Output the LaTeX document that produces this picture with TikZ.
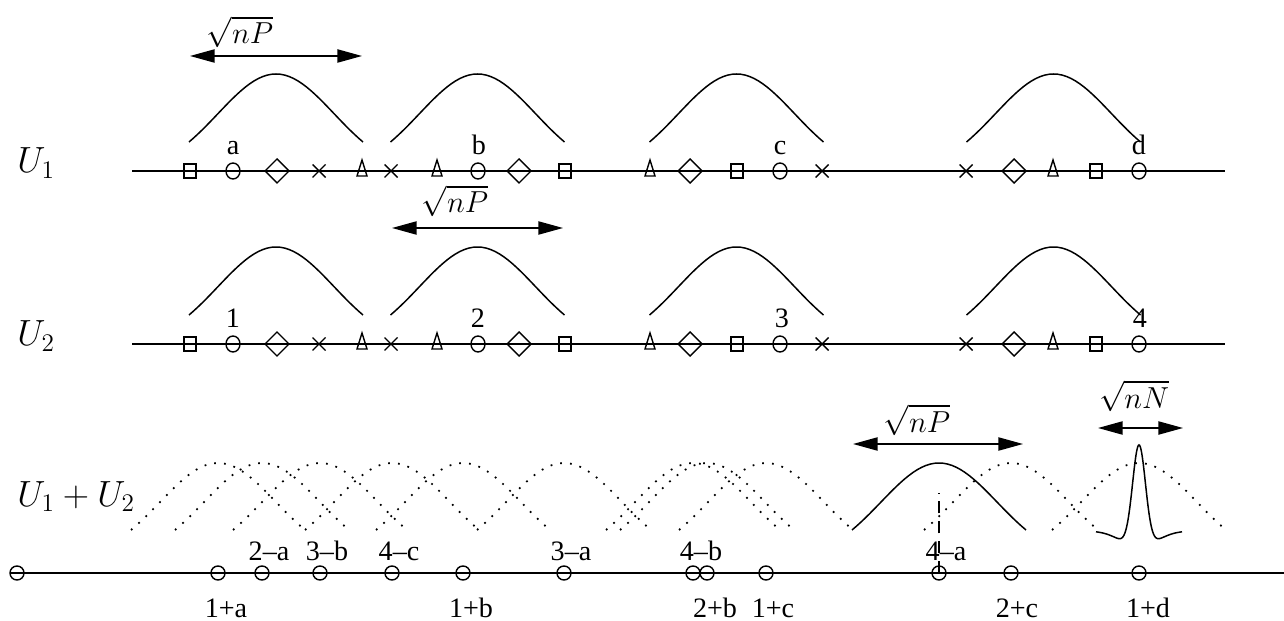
\documentclass[tikz,border=0pt]{standalone}
\usepackage{fontspec}
\setmainfont{Liberation Serif}
\usetikzlibrary{arrows.meta}
\tikzset{
  axis/.style={line width=0.85pt},
  bump/.style={line width=0.85pt},
  ghost/.style={line width=1pt, dash pattern=on 1pt off 4.6pt},
  span/.style={line width=0.85pt, {Triangle[length=14pt,width=7.5pt]}-{Triangle[length=14pt,width=7.5pt]}},
  lbl/.style={font=\fontsize{16}{19}\selectfont, inner sep=0pt, anchor=base},
  mth/.style={font=\fontsize{16.5}{20}\selectfont, inner sep=0pt, anchor=base},
  ulbl/.style={font=\fontsize{22}{26}\selectfont, inner sep=0pt, anchor=base west},
  sqm/.pic={\draw[line width=0.8pt] (-6,-7) rectangle (6,7);},
  circm/.pic={\draw[line width=0.8pt] (0,0) ellipse[x radius=7, y radius=8];},
  diam/.pic={\draw[line width=0.8pt] (-12,0) -- (0,-12) -- (12,0) -- (0,12) -- cycle;},
  crossm/.pic={\draw[line width=0.8pt] (-6.5,-6.5) -- (6.5,6.5) (-6.5,6.5) -- (6.5,-6.5);},
  trim/.pic={\draw[line width=0.8pt] (-5,5) -- (5,5) -- (0,-11) -- cycle;}
}
\begin{document}
\begin{tikzpicture}[x=0.02cm,y=-0.02cm]
\useasboundingbox (0,0) rectangle (1284,621);
\node[ulbl] (u1) at (17,173) {$U_1$};
\node[ulbl] (u2) at (17,346) {$U_2$};
\node[ulbl] (u12) at (17,506) {$U_1+U_2$};
\draw[axis] (132,171) -- (1225,171);
\draw[axis] (132,344) -- (1225,344);
\foreach \ry in {171,344}{
  \foreach \px/\mk in {190/sqm,233/circm,277/diam,319/crossm,362/trim,391/crossm,437/trim,478/circm,519/diam,565/sqm,650/trim,690/diam,737/sqm,780/circm,822/crossm,966/crossm,1014/diam,1053/trim,1096/sqm,1139/circm}
    \pic at (\px,\ry) {\mk};
}
\foreach \c in {276,477.5,736.5,1053.5}{
  \draw[bump] plot[domain=-1.5:1.5,samples=41] ({\c+58*\x},{174.7-100.7*exp(-0.5*(\x)*(\x))});
  \draw[bump] plot[domain=-1.5:1.5,samples=41] ({\c+58*\x},{347.7-100.7*exp(-0.5*(\x)*(\x))});
}
\node[lbl] (la) at (233,155) {a};
\node[lbl] (lb) at (479,155) {b};
\node[lbl] (lc) at (780,155) {c};
\node[lbl] (ld) at (1139,155) {d};
\node[lbl] (l1) at (233,328) {1};
\node[lbl] (l2) at (478,328) {2};
\node[lbl] (l3) at (782,328) {3};
\node[lbl] (l4) at (1140,328) {4};
\coordinate (s1a) at (190,56);
\coordinate (s1b) at (362,56);
\coordinate (s2a) at (392,228);
\coordinate (s2b) at (563,228);
\coordinate (s3a) at (853,444);
\coordinate (s3b) at (1023,444);
\coordinate (s4a) at (1098,428);
\coordinate (s4b) at (1183,428);
\draw[span] (s1a) -- (s1b);
\draw[span] (s2a) -- (s2b);
\draw[span] (s3a) -- (s3b);
\draw[span] (s4a) -- (s4b);
\node[mth] (w1) at (240,44) {$\sqrt{nP}$};
\node[mth] (w2) at (455,213) {$\sqrt{nP}$};
\node[mth] (w3) at (917,432) {$\sqrt{nP}$};
\node[mth] (w4) at (1134,408) {$\sqrt{nN}$};
\coordinate (p0) at (10,573);
\coordinate (pend) at (1284,573);
\draw[axis] (p0) -- (pend);
\foreach \px in {17,218,262,320,392,463,564,693,707,766,939,1011,1139}
  \draw[line width=0.8pt] (\px,573) circle[radius=7];
\foreach \c in {218,262,320,392,463,564,693,707,766,1011,1139}
  \draw[ghost] plot[domain=-1.5:1.5,samples=41] ({\c+58*\x},{562.2-99.2*exp(-0.5*(\x)*(\x))});
\draw[bump] plot[domain=-1.5:1.5,samples=41] ({939+58*\x},{562.2-99.2*exp(-0.5*(\x)*(\x))});
\draw[bump] plot[domain=-43:43,samples=121,smooth] ({1139+\x},{530.9-102*exp(-(\x)*(\x)/84.5)+16*exp(-(\x)*(\x)/648)});
\coordinate (p4a) at (939,573);
\draw[line width=0.8pt, dash pattern=on 6.8pt off 4.5pt] (p4a) -- ++(0,-80);
\node[lbl] (m1) at (269,560) {2–a};
\node[lbl] (m2) at (327,560) {3–b};
\node[lbl] (m3) at (399,560) {4–c};
\node[lbl] (m4) at (571,560) {3–a};
\node[lbl] (m5) at (701,560) {4–b};
\node[lbl] (m6) at (946,560) {4–a};
\node[lbl] (n1) at (226,617) {1+a};
\node[lbl] (n2) at (471,617) {1+b};
\node[lbl] (n3) at (715,617) {2+b};
\node[lbl] (n4) at (773,617) {1+c};
\node[lbl] (n5) at (1017,617) {2+c};
\node[lbl] (n6) at (1148,617) {1+d};
\end{tikzpicture}
\end{document}
